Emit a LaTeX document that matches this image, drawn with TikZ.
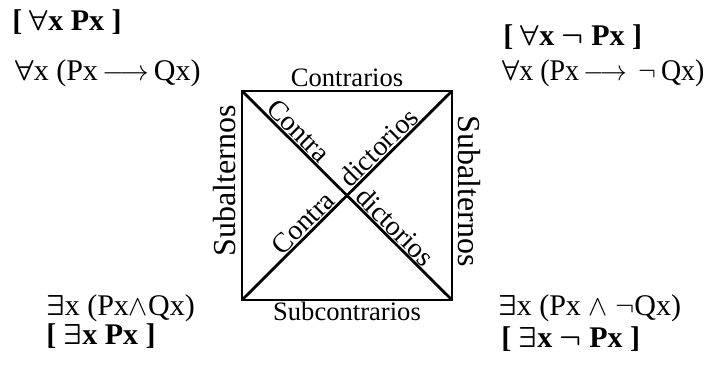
\documentclass[tikz,border=0pt]{standalone}
\usepackage{amsmath}
\usepackage{fontspec}
\setmainfont{Liberation Serif}
\usepackage{tikz}
\usetikzlibrary{positioning}
\newcommand{\todos}{{\Large\boldmath$\forall$}}
\newcommand{\existe}{{\Large\boldmath$\exists$}}

\begin{document}
\begin{tikzpicture}[x=0.5pt,y=0.5pt,
lado/.style={line width=1.4pt},
rel/.style={font=\fontsize{13.3}{15}\selectfont,inner sep=1pt},
alt/.style={font=\fontsize{16}{18}\selectfont,inner sep=1pt,sloped},
diag/.style={font=\fontsize{14}{16}\selectfont,sloped,above,inner sep=0.5pt},
form/.style={font=\fontsize{15}{17}\selectfont,inner sep=0pt,anchor=west},
formb/.style={form,font=\fontsize{15}{17}\selectfont\bfseries\boldmath}
]
\useasboundingbox (0,0) rectangle (707,-367);
\coordinate (A) at (242,-91);
\coordinate (E) at (452,-91);
\coordinate (I) at (242,-300);
\coordinate (O) at (452,-300);
\draw[lado] (A) -- (E) -- (O) -- (I) -- cycle;
\draw[lado] (A) -- (O) node[diag,pos=.23] (ca) {Contra} node[diag,pos=.69] (da) {dictorios};
\draw[lado] (I) -- (E) node[diag,pos=.33] (cb) {Contra} node[diag,pos=.69] (db) {dictorios};
\path (A) -- node[rel,above=1pt] (ctr) {Contrarios} (E);
\path (I) -- node[rel,below=0pt] (sub) {Subcontrarios} (O);
\path (I) -- node[alt,above=2pt,pos=.57] (sal) {Subalternos} (A);
\path (E) -- node[alt,above=2pt,pos=.48] (sar) {Subalternos} (O);
\node[formb] (a1) at (12,-22) {[ \todos x Px ]};
\node[form] (a2) at (15,-73) {\todos x (Px$\,\longrightarrow\,$Qx)};
\node[formb] (e1) at (503,-37) {[ \todos x $\neg$ Px ]};
\node[form,xscale=.93] (e2) at (502,-73) {\todos x (Px$\,\longrightarrow\,\neg\,$Qx)};
\node[form] (i1) at (46,-308) {\existe x (Px$\wedge$Qx)};
\node[formb] (i2) at (46,-336) {[ \existe x Px ]};
\node[form] (o1) at (498,-308) {\existe x (Px $\wedge\ \neg$Qx)};
\node[formb] (o2) at (501,-339) {[ \existe x $\neg$ Px ]};
\end{tikzpicture}
\end{document}
